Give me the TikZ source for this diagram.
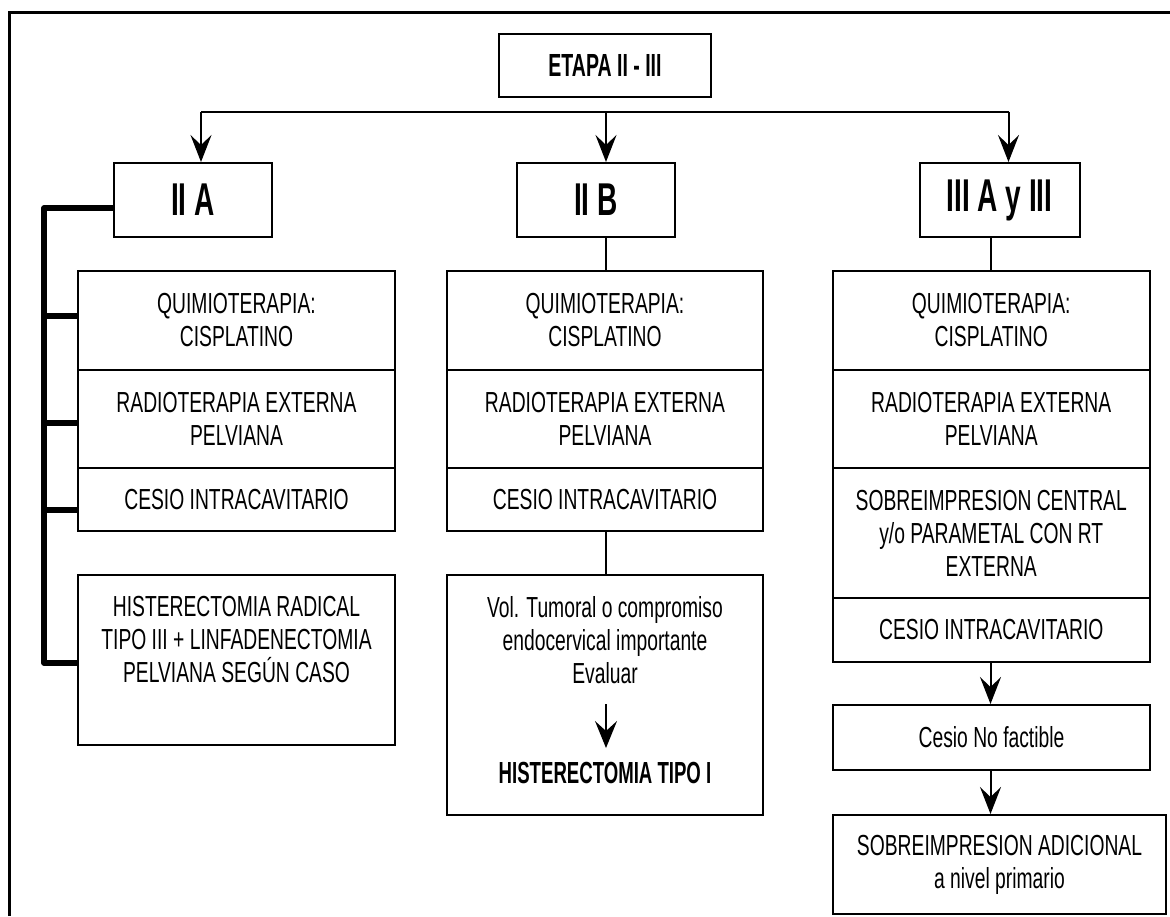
\documentclass[tikz,border=0pt]{standalone}
\usepackage{fontspec}
\usetikzlibrary{arrows.meta}
\newfontfamily\nrm[FakeStretch=0.665]{Liberation Sans}
\newfontfamily\hdr[FakeStretch=0.61]{Liberation Sans}
\newcommand\mkbox[7]{\node[#1, minimum width={(#5-#3)*1pt}, minimum height={(#6-#4)*1pt}] (#2) at ({(#3+#5)/2},{(#4+#6)/2}) {#7};}
\begin{document}
\begin{tikzpicture}[x=1pt,y=-1pt,
  box/.style={draw, line width=2pt, inner sep=0pt, align=center, font=\nrm\fontsize{29}{33}\selectfont},
  hbox/.style={draw, line width=2pt, inner sep=0pt, align=center, font=\hdr\bfseries\fontsize{46}{50}\selectfont},
  txt/.style={inner sep=0pt, align=center, font=\nrm\fontsize{29}{33}\selectfont},
  btxt/.style={inner sep=0pt, align=center, font=\hdr\bfseries\fontsize{30.5}{34}\selectfont},
  conn/.style={line width=2pt},
  arr/.style={line width=2pt, -{Stealth[length=27pt,width=21pt,inset=10pt]}},
  sarr/.style={line width=1.5pt, -{Stealth[length=27pt,width=22pt,inset=10pt]}},
  brk/.style={line width=5.5pt, line join=round},
]
\useasboundingbox (0,0) rectangle (1170,916);
% frame (cut off at right and bottom)
\draw[line width=3pt] (9.5,916) -- (9.5,12) -- (1170,12);

% header
\mkbox{hbox, font=\hdr\bfseries\fontsize{32}{36}\selectfont}{etapa}{499}{34}{711}{97}{ETAPA II - III}
\mkbox{hbox}{iia}{114}{163}{272}{237}{II A}
\mkbox{hbox}{iib}{517}{163}{675}{237}{II B}
\mkbox{hbox}{iii}{919.5}{163}{1079.5}{237}{III A y III}

\coordinate (hl) at (201,111.5);
\coordinate (hr) at (1008.5,111.5);
\coordinate (xm) at (606,0);
\coordinate (xr) at (990.5,0);
\draw[conn] (hl) -- (hr);
\draw[arr] (hl) -- (hl |- iia.north);
\draw[arr] (xm |- hl) -- (xm |- iib.north);
\draw[arr] (hr) -- (hr |- iii.north);

% left column
\mkbox{box}{q1}{78}{271}{395}{370}{QUIMIOTERAPIA:\\CISPLATINO}
\mkbox{box}{r1}{78}{370}{395}{468}{RADIOTERAPIA EXTERNA\\PELVIANA}
\mkbox{box}{c1}{78}{468}{395}{531}{CESIO INTRACAVITARIO}
\mkbox{box}{h1}{78}{575}{395}{745}{}
\node[txt] (h1t) at (236.5,640) {HISTERECTOMIA RADICAL\\TIPO III + LINFADENECTOMIA\\PELVIANA SEGÚN CASO};

\coordinate (bk) at (44,208);
\coordinate (t1) at (44,316);
\coordinate (t2) at (44,423);
\coordinate (t3) at (44,510);
\coordinate (t4) at (44,663);
\draw[brk] (iia.west |- bk) -- (bk) -- (t4) -- (t4 -| h1.west);
\draw[brk] (t1) -- (t1 -| q1.west);
\draw[brk] (t2) -- (t2 -| r1.west);
\draw[brk] (t3) -- (t3 -| c1.west);

% middle column
\mkbox{box}{q2}{447}{271}{763}{370}{QUIMIOTERAPIA:\\CISPLATINO}
\mkbox{box}{r2}{447}{370}{763}{468}{RADIOTERAPIA EXTERNA\\PELVIANA}
\mkbox{box}{c2}{447}{468}{763}{531}{CESIO INTRACAVITARIO}
\mkbox{box}{v2}{447}{575}{763}{815}{}
\node[txt] (v2t) at (605,640) {Vol. Tumoral o compromiso\\endocervical importante\\Evaluar};
\node[btxt] (v2b) at (605,773) {HISTERECTOMIA TIPO I};
\draw[conn] (xm |- iib.south) -- (xm |- q2.north);
\draw[conn] (xm |- c2.south) -- (xm |- v2.north);
\coordinate (vs) at (606,704);
\coordinate (ve) at (606,748);
\draw[sarr] (vs) -- (ve);

% right column
\mkbox{box}{q3}{833}{271}{1149.5}{370}{QUIMIOTERAPIA:\\CISPLATINO}
\mkbox{box}{r3}{833}{370}{1149.5}{468}{RADIOTERAPIA EXTERNA\\PELVIANA}
\mkbox{box}{s3}{833}{468}{1149.5}{598}{SOBREIMPRESION CENTRAL\\y/o PARAMETAL CON RT\\EXTERNA}
\mkbox{box}{c3}{833}{598}{1149.5}{662}{CESIO INTRACAVITARIO}
\mkbox{box}{n3}{833}{705}{1150}{770}{Cesio No factible}
\mkbox{box}{a3}{833}{815}{1166}{914}{SOBREIMPRESION ADICIONAL\\a nivel primario}
\draw[conn] (xr |- iii.south) -- (xr |- q3.north);
\draw[arr] (xr |- c3.south) -- (xr |- n3.north);
\draw[arr] (xr |- n3.south) -- (xr |- a3.north);
\end{tikzpicture}
\end{document}
